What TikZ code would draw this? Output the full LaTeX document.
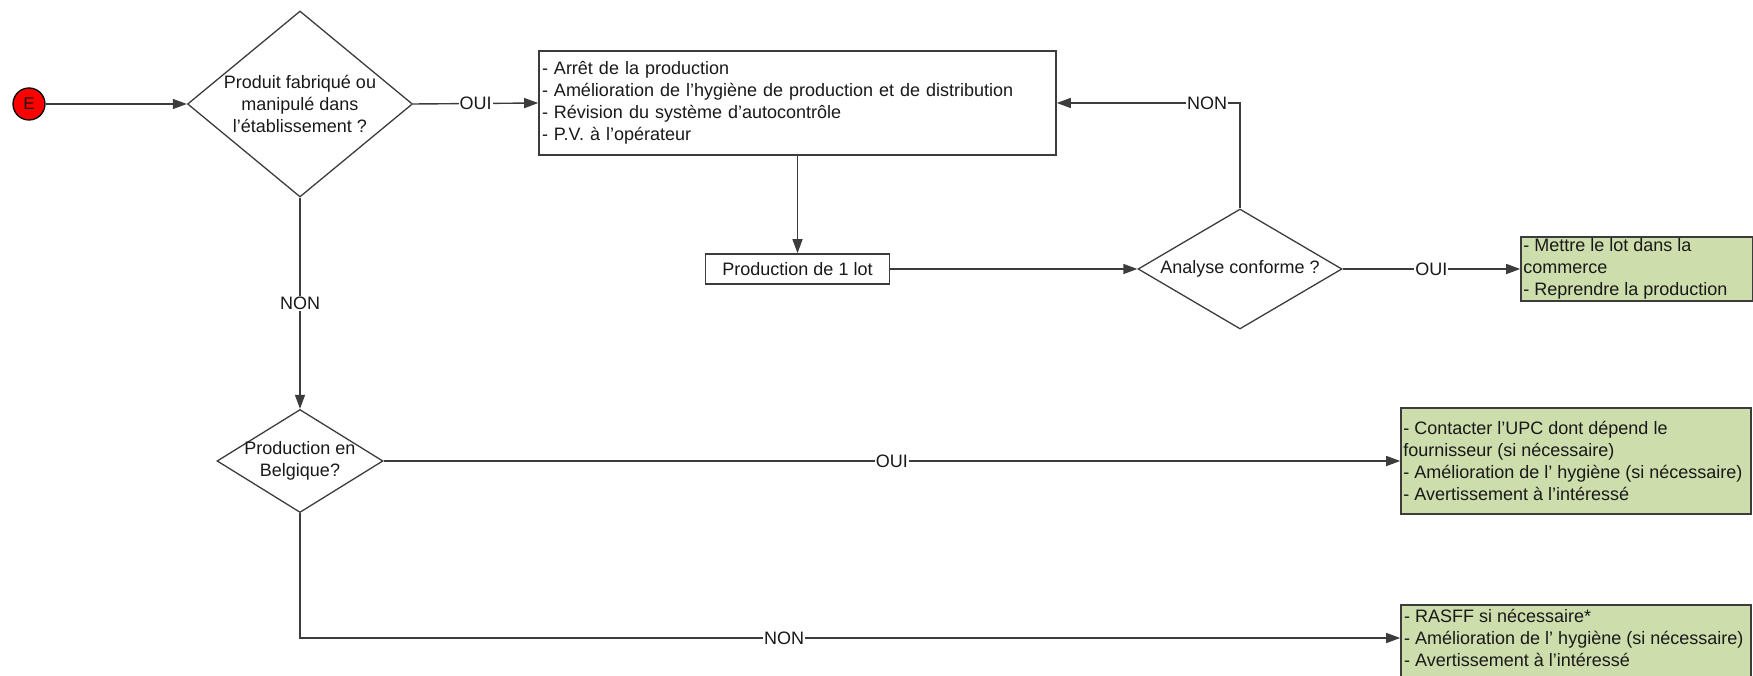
\documentclass[tikz,border=0pt]{standalone}
\usepackage{fontspec}
\setmainfont{Liberation Sans}
\usetikzlibrary{shapes.geometric,arrows.meta}
\definecolor{linec}{RGB}{60,60,60}
\definecolor{boxgreen}{RGB}{205,221,172}
\definecolor{txt}{RGB}{25,25,25}
\begin{document}
\begin{tikzpicture}[x=1pt,y=-1pt,
  every node/.style={font=\fontsize{18}{22}\selectfont, text=txt},
  conn/.style={draw=linec, line width=1.4pt},
  arr/.style={conn, -{Triangle[length=14pt,width=10pt]}},
  lab/.style={fill=white, inner sep=1pt},
  dec/.style={shape=diamond, draw=linec, line width=1.3pt, inner sep=0pt},
  wbox/.style={draw=linec, line width=1.6pt, fill=white, inner sep=0pt},
  gbox/.style={draw=linec, line width=1.6pt, fill=boxgreen, inner sep=0pt},
  gtext/.style={anchor=west, align=left, inner sep=0pt},
  ]
\useasboundingbox (0,0) rectangle (1753,676);
\clip (0,0) rectangle (1753,676);

% start
\node[circle, draw=black, fill=red, line width=1.3pt, minimum size=32pt, inner sep=0pt,
      font=\fontsize{17}{17}\selectfont] (E) at (29,104) {E};

% decision 1
\node[dec, minimum width=225pt, minimum height=186pt] (d1) at (300,104) {};
\node[align=center] (d1t) at (300,104) {Produit fabriqué ou\\manipulé dans\\l'établissement ?};

% action box
\node[wbox, text width=511pt, inner xsep=3pt, minimum height=104pt, align=left] (b1) at (797.5,103)
  {- Arrêt de la production\\- Amélioration de l'hygiène de production et de distribution\\- Révision du système d'autocontrôle\\- P.V. à l'opérateur};

% production
\node[wbox, minimum width=184pt, minimum height=30pt] (prod) at (797.5,269) {Production de 1 lot};

% analyse
\node[dec, minimum width=204pt, minimum height=120pt] (ac) at (1240,269) {};
\node (act) at (1240,269) {Analyse conforme ?};

% green 1
\node[gbox, minimum width=232pt, minimum height=64pt] (g1) at (1637,269) {};
\node[gtext] (g1t) at ([xshift=3pt]g1.west) {- Mettre le lot dans la\\commerce\\- Reprendre la production};

% decision Belgique
\node[dec, minimum width=166pt, minimum height=103pt] (bel) at (300,461) {};
\node[align=center] (belt) at (300,461) {Production en\\Belgique?};

% green 2
\node[gbox, minimum width=350pt, minimum height=106pt] (g2) at (1576,461) {};
\node[gtext] (g2t) at ([xshift=3pt]g2.west)
  {- Contacter l'UPC dont dépend le\\fournisseur (si nécessaire)\\- Amélioration de l' hygiène (si nécessaire)\\- Avertissement à l'intéressé};

% green 3 (runs past the lower edge)
\node[gbox, minimum width=350pt, minimum height=100pt] (g3) at (1576,655) {};
\node[gtext] (g3t) at (1404,638)
  {- RASFF si nécessaire*\\- Amélioration de l' hygiène (si nécessaire)\\- Avertissement à l'intéressé};
\coordinate (g3in) at (g3.west |- g3t.west);

% connectors
\draw[arr] (E.east) -- (d1.west);
\draw[arr] (d1.east) -- node[lab]{OUI} (b1.west);
\draw[arr] (b1.south) -- (prod.north);
\draw[arr] (prod.east) -- (ac.west);
\draw[arr] (ac.north) |- node[lab, pos=0.59]{NON} (b1.east);
\draw[arr] (ac.east) -- node[lab]{OUI} (g1.west);
\draw[arr] (d1.south) -- node[lab]{NON} (bel.north);
\draw[arr] (bel.east) -- node[lab]{OUI} (g2.west);
\draw[arr] (bel.south) |- node[lab, pos=0.72]{NON} (g3in);
\end{tikzpicture}
\end{document}
